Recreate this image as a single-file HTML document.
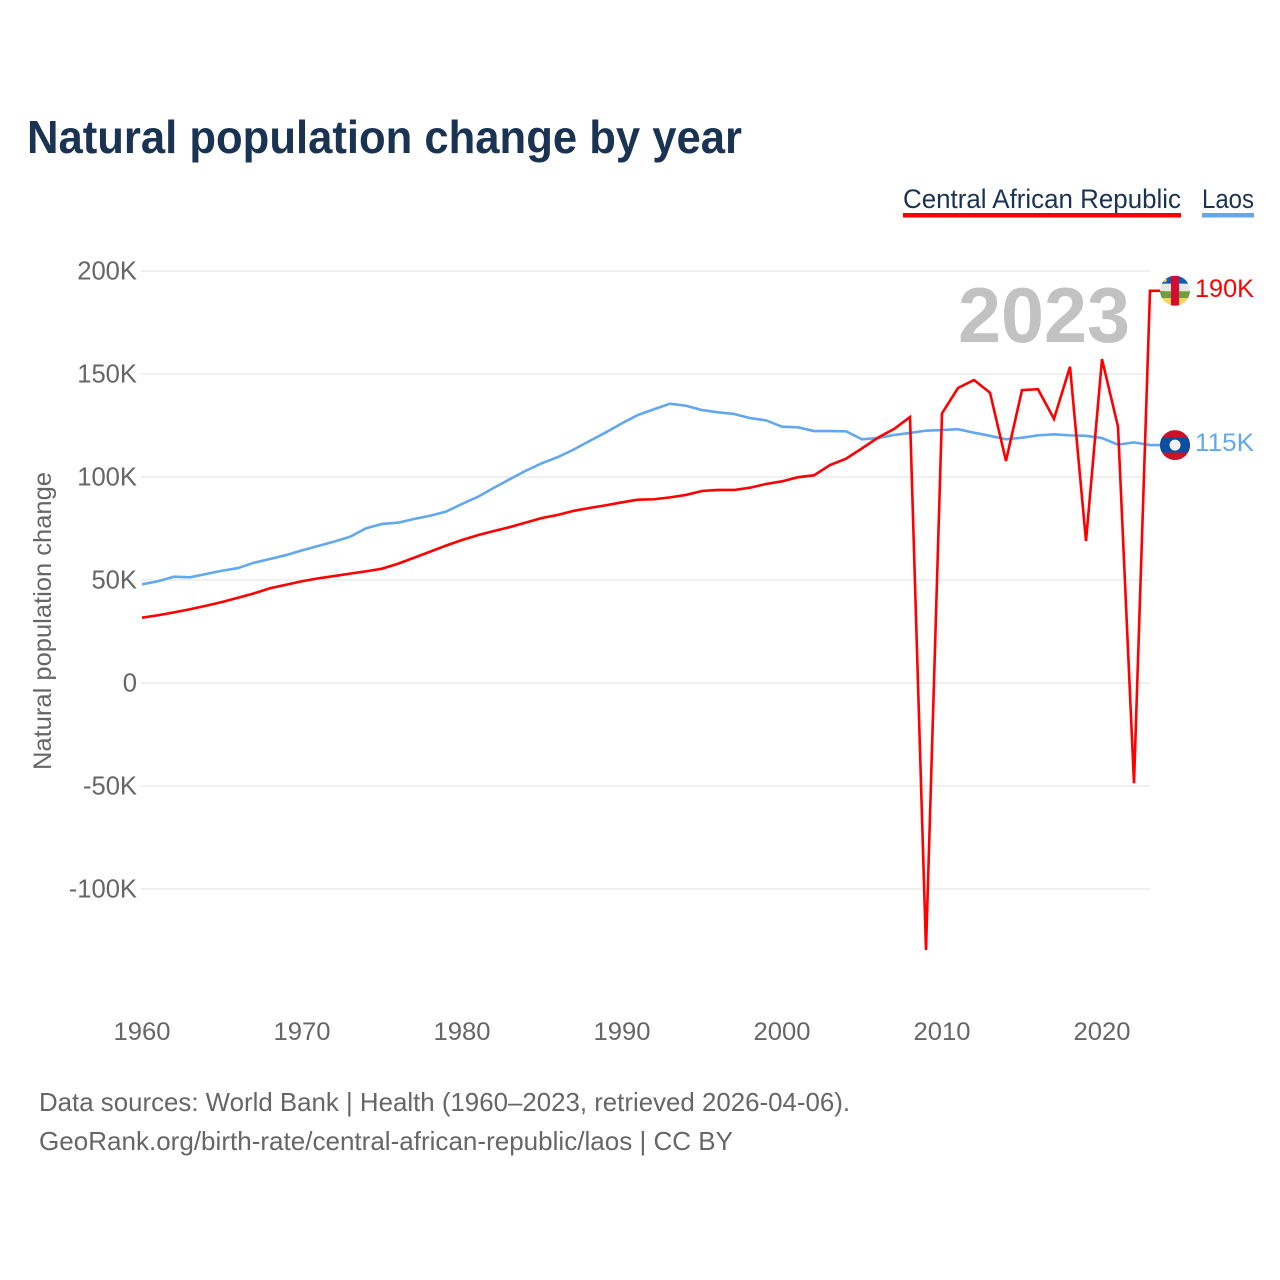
<!DOCTYPE html>
<html lang="en">
<head>
<meta charset="utf-8">
<title>Natural population change by year</title>
<style>
  html, body { margin: 0; padding: 0; background: #fff; }
  svg { display: block; font-family: "Liberation Sans", sans-serif; }
</style>
</head>
<body>
<svg id="chart" xmlns="http://www.w3.org/2000/svg" width="1280" height="1280" viewBox="0 0 1280 1280">
  <defs>
    <clipPath id="flag-clip-car"><circle id="clip-car" r="15"></circle></clipPath>
    <clipPath id="flag-clip-laos"><circle id="clip-laos" r="15"></circle></clipPath>
  </defs>
  <rect width="1280" height="1280" fill="#ffffff"></rect>
  <text x="27" y="153" font-size="46" font-weight="700" fill="#1a3353" textLength="715" lengthAdjust="spacingAndGlyphs">Natural population change by year</text>

  <g>
    <text x="903" y="208" font-size="27" fill="#1a3353" textLength="278" lengthAdjust="spacingAndGlyphs">Central African Republic</text>
    <rect x="903" y="213" width="278" height="4.5" fill="#ff0000"></rect>
  </g>
  <g>
    <text x="1202" y="208" font-size="27" fill="#1a3353" textLength="52" lengthAdjust="spacingAndGlyphs">Laos</text>
    <rect x="1202" y="213" width="52" height="4.5" fill="#62a8ee"></rect>
  </g>

  <g id="grid"></g>
  <g id="y-ticks"></g>
  <g id="x-ticks"></g>

  <text transform="translate(51 621) rotate(-90)" text-anchor="middle" font-size="25" fill="#666666" textLength="298" lengthAdjust="spacingAndGlyphs">Natural population change</text>

  <text x="1130" y="342" text-anchor="end" font-size="78" font-weight="700" fill="#c2c2c2" textLength="172" lengthAdjust="spacingAndGlyphs">2023</text>

  <g id="series"></g>

  <g id="flag-car">
    <g clip-path="url(#flag-clip-car)">
      <rect x="-15" y="-15" width="30" height="8" fill="#0f5cb8"></rect>
      <rect x="-15" y="-7" width="30" height="7.5" fill="#e6e6e6"></rect>
      <rect x="-15" y="0.5" width="30" height="7" fill="#6f9e3d"></rect>
      <rect x="-15" y="7.5" width="30" height="8" fill="#fbd75b"></rect>
      <rect x="-4" y="-15" width="8" height="30" fill="#d50c30"></rect>
      <circle cx="-10" cy="-10.5" r="1.8" fill="#fcd116"></circle>
    </g>
  </g>
  <g id="flag-laos">
    <g clip-path="url(#flag-clip-laos)">
      <rect x="-15" y="-15" width="30" height="30" fill="#ce1126"></rect>
      <rect x="-15" y="-7.5" width="30" height="15" fill="#0b4ea2"></rect>
      <circle r="5.5" fill="#f2f2f2"></circle>
    </g>
  </g>

  <text x="39" y="1111" font-size="26" fill="#666666" textLength="811" lengthAdjust="spacingAndGlyphs">Data sources: World Bank | Health (1960–2023, retrieved 2026-04-06).</text>
  <text x="39" y="1150" font-size="26" fill="#666666" textLength="694" lengthAdjust="spacingAndGlyphs">GeoRank.org/birth-rate/central-african-republic/laos | CC BY</text>
</svg>
<script>
const startYear = 1960;
const yTickValues = [200, 150, 100, 50, 0, -50, -100];
const yTickLabels = ["200K", "150K", "100K", "50K", "0", "-50K", "-100K"];
const xTickYears = [1960, 1970, 1980, 1990, 2000, 2010, 2020];
const xTickLabels = ["1960", "1970", "1980", "1990", "2000", "2010", "2020"];
const carValues = [31.7, 32.9, 34.3, 35.8, 37.5, 39.3, 41.4, 43.5, 46.0, 47.7,
  49.4, 50.8, 51.9, 53.1, 54.2, 55.5, 57.9, 60.8, 63.7, 66.7,
  69.4, 71.8, 73.8, 75.7, 77.9, 80.1, 81.6, 83.6, 85.0, 86.3,
  87.7, 89.0, 89.2, 90.1, 91.3, 93.2, 93.7, 93.7, 94.8, 96.6,
  97.9, 99.9, 100.8, 105.8, 108.9, 113.9, 119.1, 123.3, 129.1, -129.6,
  130.9, 143.2, 147.1, 140.9, 107.8, 142.2, 142.6, 128.2, 153.5, 68.9,
  157.2, 124.4, -48.7, 190.4];
const laosValues = [47.9, 49.4, 51.6, 51.3, 52.9, 54.5, 55.8, 58.4, 60.2, 62.1,
  64.4, 66.5, 68.6, 71.0, 75.1, 77.2, 77.8, 79.6, 81.2, 83.2,
  86.9, 90.4, 94.8, 99.0, 103.1, 106.7, 109.7, 113.4, 117.6, 121.7,
  126.1, 130.1, 132.9, 135.6, 134.6, 132.5, 131.4, 130.6, 128.6, 127.5,
  124.4, 124.1, 122.3, 122.3, 122.2, 118.3, 118.9, 120.4, 121.4, 122.5,
  122.8, 123.2, 121.5, 120.0, 118.3, 119.1, 120.2, 120.7, 120.2, 120.0,
  118.9, 115.7, 116.8, 115.5];
const carEndLabel = "190K";
const laosEndLabel = "115K";

const svgNS = "http://www.w3.org/2000/svg";
function xScale(year) { return 142 + (year - 1960) * 16; }
function yScale(value) { return 683 - value * 2.06; }
function make(tag, parent, attrs) {
  const el = document.createElementNS(svgNS, tag);
  for (const k in attrs) el.setAttribute(k, attrs[k]);
  parent.appendChild(el);
  return el;
}

const gridG = document.getElementById("grid");
const yTicksG = document.getElementById("y-ticks");
const xTicksG = document.getElementById("x-ticks");
const seriesG = document.getElementById("series");

yTickValues.forEach(function (v, i) {
  const line = make("line", gridG, { x1: 141, x2: 1150, y1: yScale(v), y2: yScale(v), stroke: "#ececec", "stroke-width": 1.5 });
  
  
  const label = make("text", yTicksG, { x: 137, y: yScale(v) + 8.5, "text-anchor": "end", "font-size": 25.6, fill: "#666666" });
  
  
  label.textContent = yTickLabels[i];
});

xTickYears.forEach(function (yr, i) {
  const label = make("text", xTicksG, { x: xScale(yr), y: 1040, "text-anchor": "middle", "font-size": 25, fill: "#666666", textLength: 57, lengthAdjust: "spacingAndGlyphs" });
  
  
  label.textContent = xTickLabels[i];
});

function drawSeries(values, color, endX) {
  const pts = values.map(function (v, i) { return xScale(startYear + i) + "," + yScale(v); });
  pts.push(endX + "," + yScale(values[values.length - 1]));
  return make("polyline", seriesG, { points: pts.join(" "), fill: "none", stroke: color, "stroke-width": 2.6, "stroke-linejoin": "miter" });
}

const laosLine = drawSeries(laosValues, "#62a8ee", 1165);


const carLine = drawSeries(carValues, "#ff0000", 1165);



function placeEnd(values, flagId, text, color) {
  const y = yScale(values[values.length - 1]);
  document.getElementById(flagId).setAttribute("transform", "translate(1175 " + y + ")");
  const label = make("text", seriesG.parentNode, { x: 1195, y: y + 6, "font-size": 25, fill: color, textLength: 59, lengthAdjust: "spacingAndGlyphs" });
  label.textContent = text;
  return label;
}
const carEnd = placeEnd(carValues, "flag-car", carEndLabel, "#ff0000");


const laosEnd = placeEnd(laosValues, "flag-laos", laosEndLabel, "#62a8ee");


</script>
</body>
</html>
